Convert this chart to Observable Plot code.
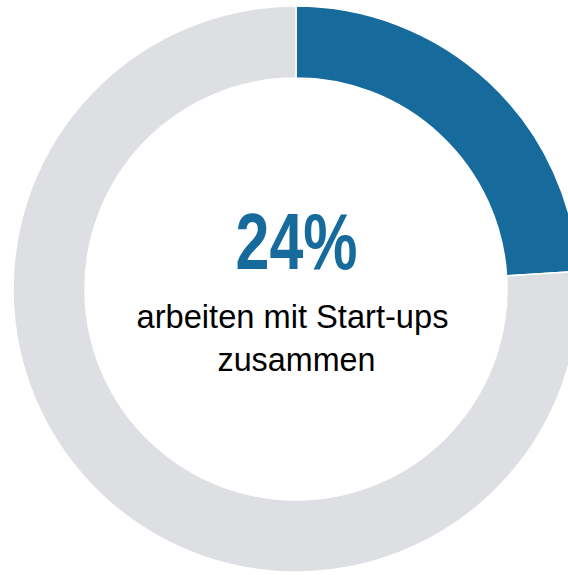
<!DOCTYPE html>
<html>
<head>
<meta charset="utf-8">
<script src="https://cdn.jsdelivr.net/npm/d3@7"></script>
<script src="https://cdn.jsdelivr.net/npm/@observablehq/plot@0.6"></script>
<style>
  html, body { margin: 0; padding: 0; background: #fff; }
  #chart svg { display: block; }
</style>
</head>
<body>
<div id="chart"></div>
<script>
const categories = ["arbeiten mit Start-ups zusammen", "übrige"];
const values = [24, 76];
const colors = ["#176b9c", "#dedfe3"];
const headline = ["24%"];
const labelLine1 = ["arbeiten mit Start-ups"];
const labelLine2 = ["zusammen"];

const W = 568, H = 575;
const cx = 296, cy = 289, R = 283, r = 211;
const FONT = "'Liberation Sans', Arial, sans-serif";

const data = categories.map((c, i) => ({category: c, value: values[i], color: colors[i]}));
const arcs = d3.pie().value(d => d.value).sort(null)(data);

// custom donut mark drawn through Plot's x/y scales (unit-circle coordinates)
function donut(index, scales) {
  const sx = scales.x, sy = scales.y;
  const unit = sx(1) - sx(0);
  const arcGen = d3.arc().innerRadius(unit * r / R).outerRadius(unit);
  const g = d3.create("svg:g").attr("transform", `translate(${sx(0)},${sy(0)})`);
  g.selectAll("path")
    .data(arcs)
    .join("path")
    .attr("d", arcGen)
    .attr("fill", d => d.data.color)
    .attr("stroke", "#fff")
    .attr("stroke-width", 1.5);
  return g.node();
}

const chart = Plot.plot({
  width: W,
  height: H,
  margin: 0,
  x: {domain: [-cx / R, (W - cx) / R], range: [0, W], axis: null},
  y: {domain: [-(H - cy) / R, cy / R], range: [H, 0], axis: null},
  style: {background: "#fff"},
  marks: [
    donut,
    Plot.text(headline, {
      x: () => 0, y: () => 0, text: d => d, dx: 0, dy: -21,
      fontFamily: FONT, fontWeight: "bold", fontSize: 79, fill: colors[0],
      textAnchor: "middle", lineAnchor: "bottom", className: "t-head"
    }),
    Plot.text(labelLine1, {
      x: () => 0, y: () => 0, text: d => d, dx: -4, dy: 38,
      fontFamily: FONT, fontSize: 34, fill: "#000",
      textAnchor: "middle", lineAnchor: "bottom", className: "t-l1"
    }),
    Plot.text(labelLine2, {
      x: () => 0, y: () => 0, text: d => d, dx: 0, dy: 81,
      fontFamily: FONT, fontSize: 34, fill: "#000",
      textAnchor: "middle", lineAnchor: "bottom", className: "t-l2"
    })
  ]
});
// condensed (Arial Narrow-like) look: squeeze glyphs to the reference widths
const sel = d3.select(chart);
sel.selectAll(".t-head text").attr("textLength", 122).attr("lengthAdjust", "spacingAndGlyphs");
sel.selectAll(".t-l1 text").attr("textLength", 312).attr("lengthAdjust", "spacingAndGlyphs");
sel.selectAll(".t-l2 text").attr("textLength", 158).attr("lengthAdjust", "spacingAndGlyphs");
document.getElementById("chart").appendChild(chart);
</script>
</body>
</html>
